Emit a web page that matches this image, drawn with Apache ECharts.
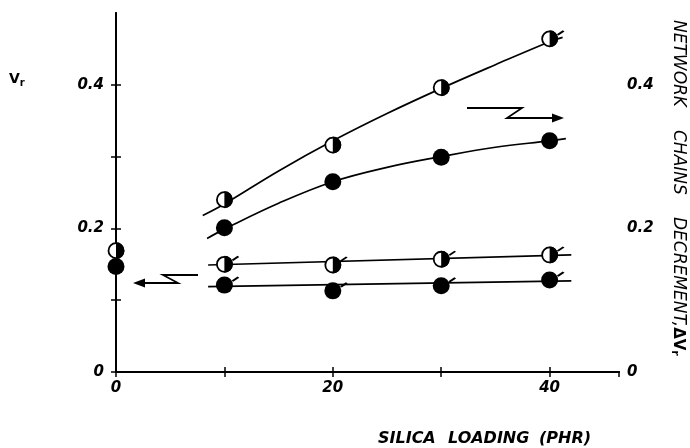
<!DOCTYPE html>
<html>
<head>
<meta charset="utf-8">
<script src="https://cdn.jsdelivr.net/npm/echarts@6/dist/echarts.min.js"></script>
<style>html,body{margin:0;padding:0;background:#fff;}#c{width:690px;height:448px;}</style>
</head>
<body>
<div id="c"></div>
<script>
// ---- data ----
const loadings = [10, 20, 30, 40];
const halfUpper = [0.240, 0.316, 0.396, 0.464];   // half-filled, upper curve
const fullUpper = [0.201, 0.265, 0.299, 0.322];   // filled, upper curve
const halfLower = [0.150, 0.149, 0.157, 0.163];   // half-filled, lower line
const fullLower = [0.121, 0.113, 0.120, 0.128];   // filled, lower line
const zeroLoading = [0];
const halfAtZero = [0.169];
const fullAtZero = [0.147];
// fitted curves drawn through the points
const fitUpperHalfX = [8, 10, 15, 20, 25, 30, 35, 40, 41.2];
const fitUpperHalfY = [0.218, 0.234, 0.280, 0.322, 0.360, 0.395, 0.428, 0.460, 0.466];
const fitUpperFullX = [8.4, 10, 15, 20, 25, 30, 35, 40, 41.5];
const fitUpperFullY = [0.186, 0.199, 0.235, 0.265, 0.285, 0.300, 0.313, 0.322, 0.325];
const fitLowerHalfX = [8.5, 42];
const fitLowerHalfY = [0.149, 0.163];
const fitLowerFullX = [8.5, 42];
const fitLowerFullY = [0.119, 0.127];
const xTicks = [0, 20, 40];
const yTicks = ['0', '0.2', '0.4'];

const zip = (xs, ys) => xs.map((x, i) => [x, ys[i]]);
const FONT = 'DejaVu Sans';
const labelStyle = {fontFamily: FONT, fontStyle: 'italic', fontWeight: 'bold', fontSize: 15, color: '#000'};
const axLine = {lineStyle: {color: '#000', width: 2}};
const axTick = {inside: true, length: 5, lineStyle: {color: '#000', width: 1.5}};

const xFmt = v => (xTicks.indexOf(v) >= 0 ? String(v) : '');
const yFmt = v => {
  const s = v === 0 ? '0' : (Math.round(v * 10) / 10).toString();
  return yTicks.indexOf(s) >= 0 ? s : '';
};

const halfPath = 'path://M0,0 A10,10 0 0 1 0,20 Z';
const pipPath = 'path://M0,10 L10,0';

function fullSeries(xs, ys) {
  return {type: 'scatter', data: zip(xs, ys), symbol: 'circle', symbolSize: 17,
    itemStyle: {color: '#000', opacity: 1}, z: 4, silent: true};
}
function halfSeries(xs, ys) {
  return [
    {type: 'scatter', data: zip(xs, ys), symbol: 'circle', symbolSize: 15,
      itemStyle: {color: '#fff', borderColor: '#000', borderWidth: 1.8, opacity: 1}, z: 4, silent: true},
    {type: 'scatter', data: zip(xs, ys), symbol: halfPath, symbolSize: [8.5, 17], symbolOffset: [4.25, 0],
      itemStyle: {color: '#000', opacity: 1}, z: 5, silent: true}
  ];
}
function pipSeries(xs, ys) {
  return {type: 'scatter', data: zip(xs, ys), symbol: pipPath, symbolSize: [6, 4], symbolOffset: [11, -6],
    itemStyle: {color: '#000', borderColor: '#000', borderWidth: 2, opacity: 1}, z: 5, silent: true};
}
function fitSeries(xs, ys, smooth) {
  return {type: 'line', data: zip(xs, ys), smooth: smooth ? 0.4 : false, showSymbol: false, symbol: 'none',
    lineStyle: {color: '#000', width: 1.7}, z: 3, silent: true};
}

const titleStyle = {fontFamily: FONT, fontStyle: 'italic', fontWeight: 'bold', fontSize: 16, fill: '#000', textVerticalAlign: 'middle'};

const chart = echarts.init(document.getElementById('c'), null, {renderer: 'canvas'});
const option = {
  animation: false,
  backgroundColor: '#fff',
  grid: {left: 116, right: 71, top: 13, bottom: 76},
  xAxis: [
    {type: 'value', min: 0, max: 46.4, interval: 10, position: 'bottom', axisLine: axLine, axisTick: axTick,
      splitLine: {show: false}, axisLabel: Object.assign({formatter: xFmt, margin: 9, showMaxLabel: false}, labelStyle)},
    {type: 'value', min: 0, max: 46.4, interval: 10, position: 'top', axisLine: axLine, axisTick: axTick,
      splitLine: {show: false}, axisLabel: {show: false}}
  ],
  yAxis: [
    {type: 'value', min: 0, max: 0.5, interval: 0.1, position: 'left', axisLine: axLine, axisTick: axTick,
      splitLine: {show: false}, axisLabel: Object.assign({formatter: yFmt, margin: 12, showMaxLabel: false}, labelStyle)},
    {type: 'value', min: 0, max: 0.5, interval: 0.1, position: 'right', axisLine: axLine, axisTick: axTick,
      splitLine: {show: false}, axisLabel: Object.assign({formatter: yFmt, margin: 8, showMaxLabel: false}, labelStyle)}
  ],
  series: [
    fitSeries(fitUpperHalfX, fitUpperHalfY, true),
    fitSeries(fitUpperFullX, fitUpperFullY, true),
    fitSeries(fitLowerHalfX, fitLowerHalfY, false),
    fitSeries(fitLowerFullX, fitLowerFullY, false),
    fullSeries(loadings, fullUpper),
    fullSeries(loadings, fullLower),
    fullSeries(zeroLoading, fullAtZero),
    ...halfSeries(loadings, halfUpper),
    ...halfSeries(loadings, halfLower),
    ...halfSeries(zeroLoading, halfAtZero),
    pipSeries(loadings, halfLower),
    pipSeries(loadings, fullLower),
    pipSeries([loadings[3]], [halfUpper[3]])
  ].map(s => Object.assign({clip: false}, s)),
  graphic: [
    // left-pointing break arrow (to left axis)
    {type: 'polyline', shape: {points: [[198, 275], [163, 275], [178, 283], [141, 283]]},
      style: {stroke: '#000', lineWidth: 1.8, fill: null}},
    {type: 'polygon', shape: {points: [[133, 283], [145, 278.5], [145, 287.5]]}, style: {fill: '#000'}},
    // right-pointing break arrow (to right axis)
    {type: 'polyline', shape: {points: [[467, 108], [522, 108], [507, 118], [555, 118]]},
      style: {stroke: '#000', lineWidth: 1.8, fill: null}},
    {type: 'polygon', shape: {points: [[564, 118], [552, 113.5], [552, 122.5]]}, style: {fill: '#000'}},
    // left axis name
    {type: 'text', left: 9, top: 72, style: {rich: {v: {fontFamily: FONT, fontWeight: 'bold', fontSize: 14, fill: '#000'},
      s: {fontFamily: FONT, fontWeight: 'bold', fontSize: 10, fill: '#000', padding: [8, 0, 0, 0]}},
      text: '{v|V}{s|r}'}},
    // bottom axis name
    {type: 'text', x: 378, y: 439, style: Object.assign({text: 'SILICA'}, titleStyle)},
    {type: 'text', x: 448, y: 439, style: Object.assign({text: 'LOADING'}, titleStyle)},
    {type: 'text', x: 539, y: 439, style: Object.assign({text: '(PHR)'}, titleStyle)},
    // right axis name (rotated, reading top to bottom)
    {type: 'text', x: 678, y: 20, rotation: -Math.PI / 2, style: {text: 'NETWORK', fontFamily: FONT, fontStyle: 'italic',
      fontSize: 17, fill: '#000', textVerticalAlign: 'middle'}},
    {type: 'text', x: 678, y: 130, rotation: -Math.PI / 2, style: {text: 'CHAINS', fontFamily: FONT, fontStyle: 'italic',
      fontSize: 17, fill: '#000', textVerticalAlign: 'middle'}},
    {type: 'text', x: 678, y: 217, rotation: -Math.PI / 2, style: {rich: {a: {fontFamily: FONT, fontStyle: 'italic', fontSize: 17, fill: '#000'},
      b: {fontFamily: FONT, fontWeight: 'bold', fontSize: 15, fill: '#000'},
      s: {fontFamily: FONT, fontWeight: 'bold', fontSize: 11, fill: '#000', padding: [6, 0, 0, 0]}},
      text: '{a|DECREMENT,}{b|ΔV}{s|r}', textVerticalAlign: 'middle'}}
  ]
};
chart.setOption(option);
</script>
</body>
</html>
